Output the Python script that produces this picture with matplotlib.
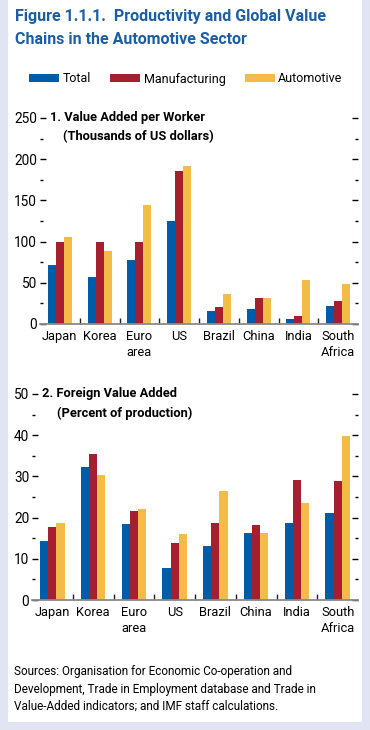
import numpy as np
import matplotlib
matplotlib.use('Agg')
import matplotlib.pyplot as plt
from matplotlib.patches import Rectangle

plt.rcParams['font.family'] = ['Roboto', 'DejaVu Sans']

# data
countries = ['Japan', 'Korea', 'Euro\narea', 'US', 'Brazil', 'China', 'India', 'South\nAfrica']
series = ['Total', 'Manufacturing', 'Automotive']

va_total = [72, 57, 78, 125, 16, 18, 6, 22]
va_manuf = [99, 99, 99, 186, 21, 32, 10, 28]
va_auto = [106, 88, 145, 192, 37, 32, 54, 49]

fva_total = [14.4, 32.4, 18.5, 7.8, 13.1, 16.3, 18.7, 21.2]
fva_manuf = [17.8, 35.5, 21.7, 13.9, 18.7, 18.2, 29.2, 29.0]
fva_auto = [18.7, 30.4, 22.1, 16.1, 26.5, 16.3, 23.6, 39.7]

colors = ['#005ca6', '#a61f30', '#f3bb48']
title_blue = '#1b5ea5'

W, H = 370, 730
fig = plt.figure(figsize=(W / 100, H / 100), dpi=100)
fig.patch.set_facecolor('#e1e4f2')
fig.patches.append(Rectangle((8 / W, 8 / H), 354 / W, 1 - 8 / H, transform=fig.transFigure,
                             facecolor='white', edgecolor='none', zorder=-10))


def px_axes(left, right, top, bottom):
    return fig.add_axes([left / W, 1 - bottom / H, (right - left) / W, (bottom - top) / H])


def draw_panel(ax, vals, ymax, step, title1, title2, x1, x2):
    x = np.arange(len(countries))
    w = 0.2
    for i, (v, c) in enumerate(zip(vals, colors)):
        ax.bar(x + (i - 1) * w, v, width=w, color=c, label=series[i], zorder=2)
    ax.set_xlim(-0.5, len(countries) - 0.5)
    ax.set_ylim(0, ymax)
    ax.set_facecolor('none')
    for s in ['left', 'right', 'top']:
        ax.spines[s].set_visible(False)
    ax.spines['bottom'].set_color('#8a8a8a')
    ax.spines['bottom'].set_linewidth(1.3)
    ax.spines['bottom'].set_zorder(3)
    ax.set_xticks(x)
    ax.set_xticklabels(countries, fontsize=9.3, linespacing=1.3, va='top')
    ax.set_xticks(np.arange(0.5, len(countries) - 1, 1), minor=True)
    ax.tick_params(axis='x', which='major', length=0, pad=4)
    ax.tick_params(axis='x', which='minor', direction='in', length=4.5, width=1, color='#222222')
    ax.set_yticks(np.arange(0, ymax + 1, step))
    ax.set_yticks(np.arange(step / 2, ymax, step), minor=True)
    ax.tick_params(axis='y', which='major', direction='in', length=4.5, width=1,
                   left=True, right=True, labelsize=9.8, pad=2)
    ax.tick_params(axis='y', which='minor', direction='in', length=2.5, width=1,
                   left=True, right=True)
    ax.text(x1, 1.0, title1, transform=ax.transAxes, fontsize=9.3, fontweight='bold',
            va='center', ha='left')
    ax.text(x2, 1.0 - 19 / (ax.get_position().height * H), title2, transform=ax.transAxes,
            fontsize=9.3, fontweight='bold', va='center', ha='left')


ax1 = px_axes(40, 358, 118, 324)
draw_panel(ax1, [va_total, va_manuf, va_auto], 250, 50,
           '1. Value Added per Worker', '(Thousands of US dollars)',
           10 / 318, 23 / 318)

ax2 = px_axes(32, 358, 394, 600)
draw_panel(ax2, [fva_total, fva_manuf, fva_auto], 50, 10,
           '2. Foreign Value Added', '(Percent of production)',
           10 / 326, 25 / 326)

fig.text(15 / W, 1 - 17 / H, 'Figure 1.1.1.  Productivity and Global Value',
         fontsize=11.5, fontweight='bold', color=title_blue, va='center', ha='left')
fig.text(15 / W, 1 - 39 / H, 'Chains in the Automotive Sector',
         fontsize=11.5, fontweight='bold', color=title_blue, va='center', ha='left')

handles, labels = ax1.get_legend_handles_labels()
fig.legend(handles, labels, loc='center', bbox_to_anchor=(186 / W, 1 - 79 / H), ncol=3,
           frameon=False, fontsize=9, handlelength=2.4, handleheight=0.55,
           handletextpad=0.3, columnspacing=1.5)

fig.text(14 / W, 1 - 689 / H,
         'Sources: Organisation for Economic Co-operation and\n'
         'Development, Trade in Employment database and Trade in\n'
         'Value-Added indicators; and IMF staff calculations.',
         fontsize=8.5, va='center', ha='left', linespacing=1.4)

fig.savefig('out.png', dpi=100)
